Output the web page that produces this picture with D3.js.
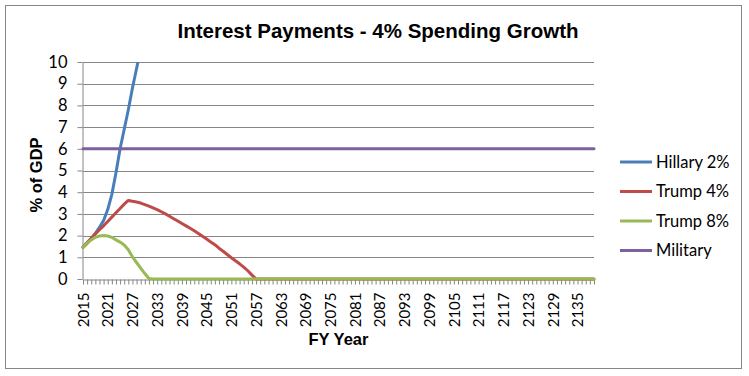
<!DOCTYPE html>
<html>
<head>
<meta charset="utf-8">
<script src="https://cdn.jsdelivr.net/npm/d3@7"></script>
<style>
  body { margin: 0; background: #fff; }
  svg { display: block; }
</style>
</head>
<body>
<div id="chart"></div>
<script>
// Categories: fiscal years 2015 - 2139
const years = d3.range(2015, 2140);

// Series values, % of GDP
const hillary2 = [
  1.46, 1.64, 1.85, 2.1, 2.38, 2.7, 3.2, 3.9, 4.9, 6.0,
  6.9, 7.8, 8.8, 9.7, 10.6, 11.5
];

const trump4 = [
  1.46, 1.68, 1.88, 2.08, 2.27, 2.45, 2.65, 2.85, 3.05, 3.25,
  3.45, 3.62, 3.58, 3.55, 3.5, 3.43, 3.36, 3.28, 3.2, 3.1,
  3.0, 2.89, 2.78, 2.67, 2.56, 2.45, 2.34, 2.22, 2.1, 1.97,
  1.84, 1.71, 1.58, 1.42, 1.28, 1.13, 0.98, 0.84, 0.7, 0.55,
  0.38, 0.18, 0, 0, 0, 0, 0, 0, 0, 0,
  0, 0, 0, 0, 0, 0, 0, 0, 0, 0,
  0, 0, 0, 0, 0, 0, 0, 0, 0, 0,
  0, 0, 0, 0, 0, 0, 0, 0, 0, 0,
  0, 0, 0, 0, 0, 0, 0, 0, 0, 0,
  0, 0, 0, 0, 0, 0, 0, 0, 0, 0,
  0, 0, 0, 0, 0, 0, 0, 0, 0, 0,
  0, 0, 0, 0, 0, 0, 0, 0, 0, 0,
  0, 0, 0, 0, 0
];

const trump8 = [
  1.46, 1.65, 1.8, 1.92, 1.98, 2.0, 1.98, 1.92, 1.8, 1.7,
  1.57, 1.35, 1.02, 0.76, 0.5, 0.25, 0.02, 0, 0, 0,
  0, 0, 0, 0, 0, 0, 0, 0, 0, 0,
  0, 0, 0, 0, 0, 0, 0, 0, 0, 0,
  0, 0, 0, 0, 0, 0, 0, 0, 0, 0,
  0, 0, 0, 0, 0, 0, 0, 0, 0, 0,
  0, 0, 0, 0, 0, 0, 0, 0, 0, 0,
  0, 0, 0, 0, 0, 0, 0, 0, 0, 0,
  0, 0, 0, 0, 0, 0, 0, 0, 0, 0,
  0, 0, 0, 0, 0, 0, 0, 0, 0, 0,
  0, 0, 0, 0, 0, 0, 0, 0, 0, 0,
  0, 0, 0, 0, 0, 0, 0, 0, 0, 0,
  0, 0, 0, 0, 0
];

const military = [
  6, 6, 6, 6, 6, 6, 6, 6, 6, 6, 6, 6, 6, 6, 6, 6, 6, 6, 6, 6,
  6, 6, 6, 6, 6, 6, 6, 6, 6, 6, 6, 6, 6, 6, 6, 6, 6, 6, 6, 6,
  6, 6, 6, 6, 6, 6, 6, 6, 6, 6, 6, 6, 6, 6, 6, 6, 6, 6, 6, 6,
  6, 6, 6, 6, 6, 6, 6, 6, 6, 6, 6, 6, 6, 6, 6, 6, 6, 6, 6, 6,
  6, 6, 6, 6, 6, 6, 6, 6, 6, 6, 6, 6, 6, 6, 6, 6, 6, 6, 6, 6,
  6, 6, 6, 6, 6, 6, 6, 6, 6, 6, 6, 6, 6, 6, 6, 6, 6, 6, 6, 6,
  6, 6, 6, 6, 6
];

const yTicks = [0, 1, 2, 3, 4, 5, 6, 7, 8, 9, 10];

const series = [
  { name: 'Hillary 2%', values: hillary2, color: '#4a7ebb' },
  { name: 'Trump 4%', values: trump4, color: '#be4b48' },
  { name: 'Trump 8%', values: trump8, color: '#98b954' },
  { name: 'Military', values: military, color: '#7d60a0' }
];

const W = 749, H = 376;
const plot = { left: 83, right: 594, top: 62, bottom: 279 };
const gridColor = '#868686';
const labelFont = 'Lato, "Open Sans", sans-serif';
const boldFont = '"Liberation Sans", Arial, sans-serif';

const svg = d3.select('#chart')
  .append('svg')
  .attr('width', W)
  .attr('height', H);

// Chart border
svg.append('rect')
  .attr('x', 5.5).attr('y', 5.5)
  .attr('width', 736).attr('height', 363)
  .attr('fill', '#fff')
  .attr('stroke', gridColor)
  .attr('stroke-width', 1);

// Title
svg.append('text')
  .attr('x', 378)
  .attr('y', 38)
  .attr('text-anchor', 'middle')
  .style('font-family', boldFont)
  .style('font-size', '20.5px')
  .style('font-weight', 'bold')
  .text('Interest Payments - 4% Spending Growth');

// Scales
const x = d3.scalePoint()
  .domain(years)
  .range([plot.left, plot.right]);

const y = d3.scaleLinear()
  .domain([0, 10])
  .range([plot.bottom, plot.top]);

// Horizontal gridlines
svg.append('g')
  .selectAll('line')
  .data(yTicks.filter(d => d > 0))
  .enter()
  .append('line')
  .attr('x1', plot.left)
  .attr('x2', plot.right)
  .attr('y1', d => Math.round(y(d)) + 0.5)
  .attr('y2', d => Math.round(y(d)) + 0.5)
  .attr('stroke', gridColor)
  .attr('stroke-width', 1);

// Y axis
const yAxis = svg.append('g')
  .attr('transform', `translate(${plot.left - 0.5},0)`)
  .call(d3.axisLeft(y).tickValues(yTicks).tickSize(5).tickPadding(10).tickSizeOuter(0));
yAxis.select('.domain').attr('stroke', gridColor);
yAxis.selectAll('.tick line').attr('stroke', gridColor);
yAxis.selectAll('text')
  .style('font-family', labelFont)
  .style('font-size', '16.5px')
  .attr('fill', '#000');

// X axis: a tick for every year, a label every 6 years
const xAxis = svg.append('g')
  .attr('transform', `translate(0,${plot.bottom + 0.5})`)
  .call(d3.axisBottom(x)
    .tickSize(5)
    .tickSizeOuter(0)
    .tickFormat(d => (d - 2015) % 6 === 0 ? d : ''));
xAxis.select('.domain').attr('stroke', gridColor);
xAxis.selectAll('.tick line').attr('stroke', gridColor);
xAxis.selectAll('text')
  .attr('y', 0)
  .attr('x', 0)
  .attr('dy', '0.35em')
  .attr('transform', 'translate(0,13) rotate(-90)')
  .attr('text-anchor', 'end')
  .style('font-family', labelFont)
  .style('font-size', '15px')
  .attr('fill', '#000');

// Axis titles
svg.append('text')
  .attr('transform', 'translate(42,175) rotate(-90)')
  .attr('text-anchor', 'middle')
  .style('font-family', boldFont)
  .style('font-size', '16.5px')
  .style('font-weight', 'bold')
  .text('% of GDP');

svg.append('text')
  .attr('x', (plot.left + plot.right) / 2)
  .attr('y', 345)
  .attr('text-anchor', 'middle')
  .style('font-family', boldFont)
  .style('font-size', '16.5px')
  .style('font-weight', 'bold')
  .text('FY Year');

// Clip for lines running past the top of the axis
svg.append('defs')
  .append('clipPath')
  .attr('id', 'plot-clip')
  .append('rect')
  .attr('x', plot.left - 3)
  .attr('y', plot.top)
  .attr('width', plot.right - plot.left + 6)
  .attr('height', plot.bottom - plot.top + 3);

const line = d3.line()
  .x((d, i) => x(years[i]))
  .y(d => y(d));

svg.append('g')
  .attr('clip-path', 'url(#plot-clip)')
  .selectAll('path')
  .data(series)
  .enter()
  .append('path')
  .attr('d', d => line(d.values))
  .attr('fill', 'none')
  .attr('stroke', d => d.color)
  .attr('stroke-width', 3)
  .attr('stroke-linejoin', 'round')
  .attr('stroke-linecap', 'round');

// Legend
const legend = svg.append('g')
  .selectAll('g')
  .data(series)
  .enter()
  .append('g')
  .attr('transform', (d, i) => `translate(620,${162 + i * 29.5})`);

legend.append('line')
  .attr('x1', 0).attr('x2', 32)
  .attr('stroke', d => d.color)
  .attr('stroke-width', 3);

legend.append('text')
  .attr('x', 36)
  .attr('dy', '0.35em')
  .style('font-family', labelFont)
  .style('font-size', '16.5px')
  .text(d => d.name);
</script>
</body>
</html>
